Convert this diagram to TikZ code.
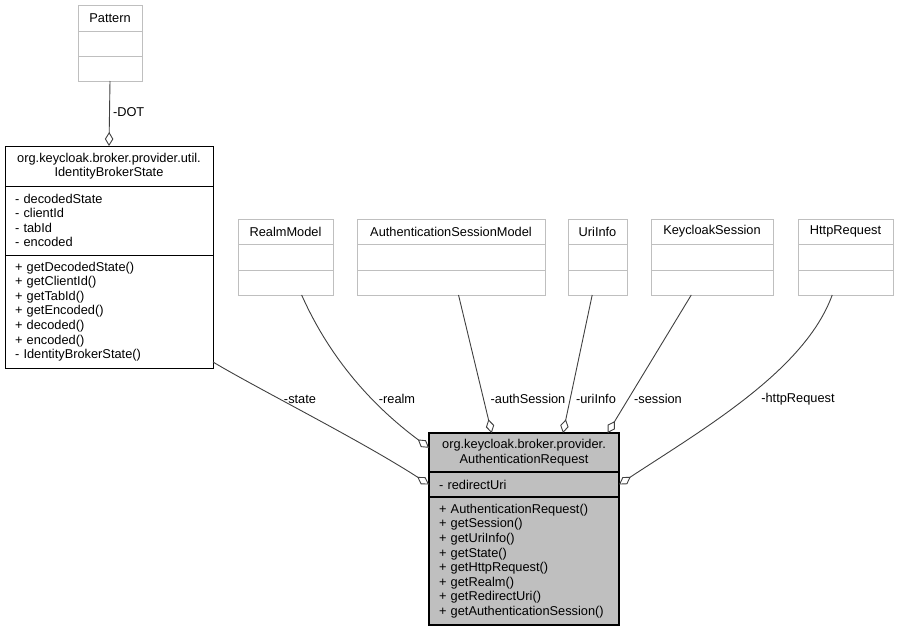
\documentclass[tikz,border=0pt]{standalone}
\usepackage{fontspec}
\setmainfont{Liberation Sans}
\usetikzlibrary{calc}
\usetikzlibrary{positioning}
\usetikzlibrary{arrows.meta}

\definecolor{boxgray}{HTML}{BFBFBF}
\definecolor{edgegray}{HTML}{404040}

\tikzset{
  every node/.style={font=\fontsize{12.8}{14.6}\selectfont,outer sep=0pt,inner ysep=0pt},
  ext/.style={draw=boxgray,fill=white,line width=1pt,inner xsep=0pt,align=center},
  cls/.style={draw=black,fill=white,line width=1pt,inner xsep=10pt},
  cur/.style={draw=black,fill=boxgray,line width=1.3pt,inner xsep=10pt},
  agg/.style={draw=edgegray,line width=0.9pt,-{Diamond[fill=white,length=14pt,width=8.5pt]}},
  lbl/.style={inner sep=0pt}
}

\begin{document}
\begin{tikzpicture}[x=1pt,y=-1pt]
\useasboundingbox (0,0) rectangle (899,632);

% external classes
\node[ext,anchor=north west,minimum width=64,minimum height=26] (pattern) at (78,5) {Pattern};
\node[ext,below=0pt of pattern,minimum width=64,minimum height=25] (pattern-a) {};
\node[ext,below=0pt of pattern-a,minimum width=64,minimum height=25] (pattern-m) {};

\node[ext,anchor=north west,minimum width=95,minimum height=25] (realm) at (238,219) {RealmModel};
\node[ext,below=0pt of realm,minimum width=95,minimum height=26] (realm-a) {};
\node[ext,below=0pt of realm-a,minimum width=95,minimum height=25] (realm-m) {};

\node[ext,anchor=north west,minimum width=188,minimum height=25] (asm) at (357,219) {AuthenticationSessionModel};
\node[ext,below=0pt of asm,minimum width=188,minimum height=26] (asm-a) {};
\node[ext,below=0pt of asm-a,minimum width=188,minimum height=25] (asm-m) {};

\node[ext,anchor=north west,minimum width=59,minimum height=25] (uri) at (568,219) {UriInfo};
\node[ext,below=0pt of uri,minimum width=59,minimum height=26] (uri-a) {};
\node[ext,below=0pt of uri-a,minimum width=59,minimum height=25] (uri-m) {};

\node[ext,anchor=north west,minimum width=122,minimum height=25] (ks) at (651,219) {KeycloakSession};
\node[ext,below=0pt of ks,minimum width=122,minimum height=26] (ks-a) {};
\node[ext,below=0pt of ks-a,minimum width=122,minimum height=25] (ks-m) {};

\node[ext,anchor=north west,minimum width=95,minimum height=25] (http) at (798,219) {HttpRequest};
\node[ext,below=0pt of http,minimum width=95,minimum height=26] (http-a) {};
\node[ext,below=0pt of http-a,minimum width=95,minimum height=25] (http-m) {};

% IdentityBrokerState
\node[cls,anchor=north west,text width=188,align=center,minimum height=40] (ibs) at (5,146)
  {org.keycloak.broker.provider.util.\\IdentityBrokerState};
\node[cls,below=0pt of ibs,text width=188,align=left,minimum height=69] (ibs-a)
  {- decodedState\\- clientId\\- tabId\\- encoded};
\node[cls,below=0pt of ibs-a,text width=188,align=left,minimum height=113] (ibs-m)
  {+ getDecodedState()\\+ getClientId()\\+ getTabId()\\+ getEncoded()\\+ decoded()\\+ encoded()\\- IdentityBrokerState()};

% AuthenticationRequest
\node[cur,anchor=north west,text width=170,align=center,minimum height=39] (ar) at (429,433)
  {org.keycloak.broker.provider.\\AuthenticationRequest};
\node[cur,below=0pt of ar,text width=170,align=left,minimum height=25] (ar-a)
  {- redirectUri};
\node[cur,below=0pt of ar-a,text width=170,align=left,minimum height=128] (ar-m)
  {+ AuthenticationRequest()\\+ getSession()\\+ getUriInfo()\\+ getState()\\+ getHttpRequest()\\+ getRealm()\\+ getRedirectUri()\\+ getAuthenticationSession()};

% edges
\draw[agg] (pattern-m.south) -- (ibs.north);
\draw[agg] ($(ibs-m.north east)!0.947!(ibs-m.south east)$)
  .. controls (260,390) and (360,440) .. (ar-a.west);
\draw[agg] ($(realm-m.south west)!0.67!(realm-m.south east)$)
  .. controls (335,370) and (385,415) .. ($(ar.north west)!0.38!(ar.south west)$);
\draw[agg] ($(asm-m.south west)!0.54!(asm-m.south east)$)
  -- ($(ar.north west)!0.33!(ar.north east)$);
\draw[agg] ($(uri-m.south west)!0.41!(uri-m.south east)$)
  -- ($(ar.north west)!0.705!(ar.north east)$);
\draw[agg] ($(ks-m.south west)!0.33!(ks-m.south east)$)
  -- ($(ar.north west)!0.94!(ar.north east)$);
\draw[agg] ($(http-m.south west)!0.36!(http-m.south east)$)
  .. controls (805,370) and (705,428) .. (ar-a.east);

% labels
\node[lbl,anchor=west] (l-dot) at (113,112) {-DOT};
\node[lbl] (l-state) at (300,399) {-state};
\node[lbl] (l-realm) at (397,399) {-realm};
\node[lbl] (l-auth) at (528,399) {-authSession};
\node[lbl] (l-uri) at (596,399) {-uriInfo};
\node[lbl] (l-session) at (658,399) {-session};
\node[lbl] (l-http) at (798,399) {-httpRequest};

\end{tikzpicture}
\end{document}
